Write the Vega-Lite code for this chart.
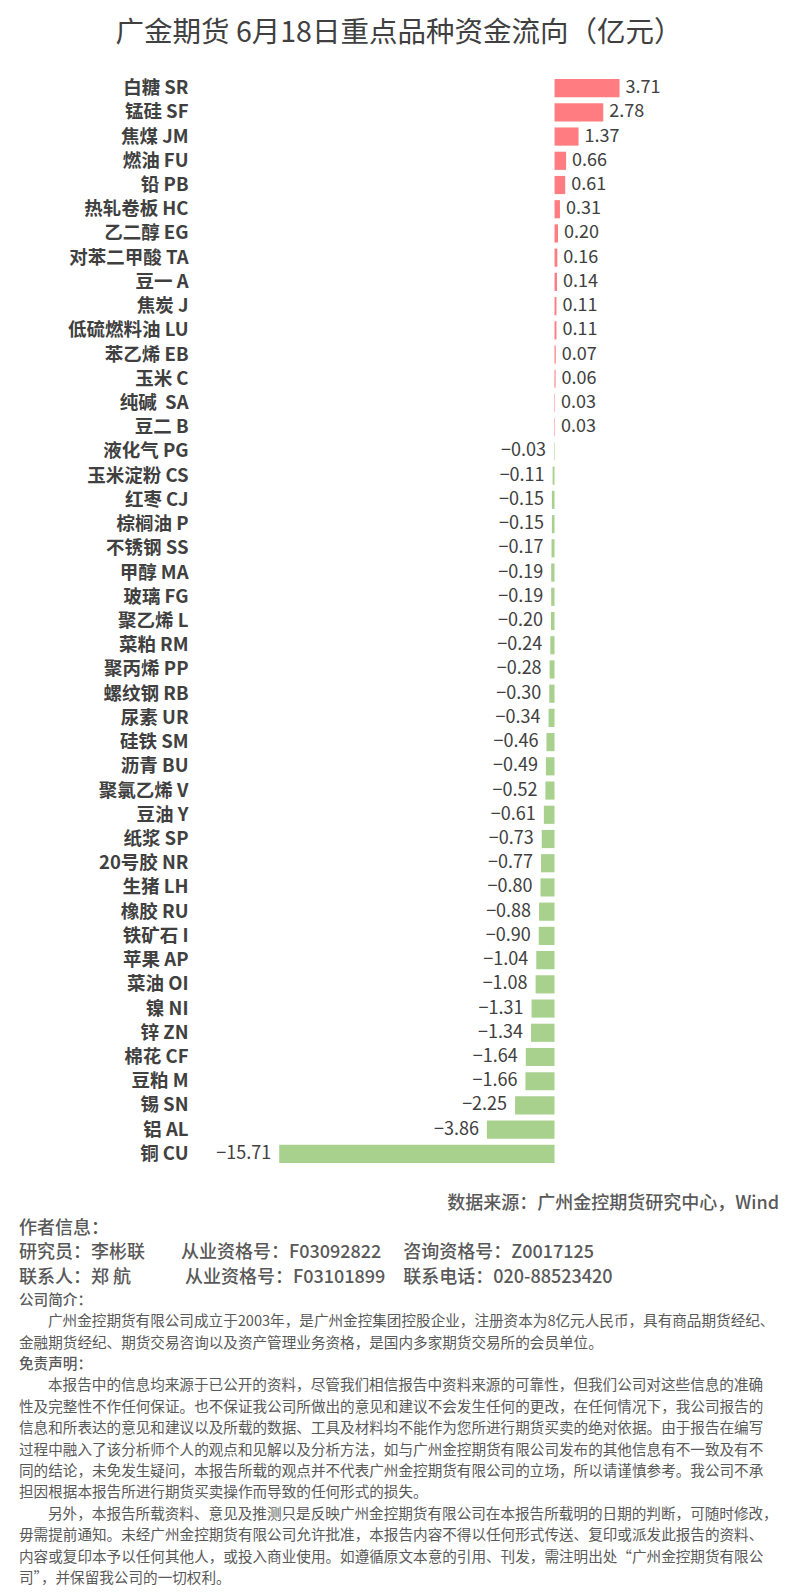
{
  "$schema": "https://vega.github.io/schema/vega-lite/v6.json",
  "background": "white",
  "padding": {"left": 19, "top": 18, "right": 9, "bottom": 0},
  "config": {
    "view": {"stroke": null},
    "font": "Noto Sans CJK SC",
    "text": {"font": "Noto Sans CJK SC"}
  },
  "title": {
    "text": "广金期货 6月18日重点品种资金流向（亿元）",
    "fontSize": 28.5,
    "fontWeight": "normal",
    "color": "#404040",
    "font": "Noto Sans CJK SC",
    "anchor": "middle",
    "offset": 29
  },
  "datasets": {
    "flows": [
      {"name": "白糖 SR", "value": 3.71},
      {"name": "锰硅 SF", "value": 2.78},
      {"name": "焦煤 JM", "value": 1.37},
      {"name": "燃油 FU", "value": 0.66},
      {"name": "铅 PB", "value": 0.61},
      {"name": "热轧卷板 HC", "value": 0.31},
      {"name": "乙二醇 EG", "value": 0.20},
      {"name": "对苯二甲酸 TA", "value": 0.16},
      {"name": "豆一 A", "value": 0.14},
      {"name": "焦炭 J", "value": 0.11},
      {"name": "低硫燃料油 LU", "value": 0.11},
      {"name": "苯乙烯 EB", "value": 0.07},
      {"name": "玉米 C", "value": 0.06},
      {"name": "纯碱\u00a0\u00a0SA", "value": 0.03},
      {"name": "豆二 B", "value": 0.03},
      {"name": "液化气 PG", "value": -0.03},
      {"name": "玉米淀粉 CS", "value": -0.11},
      {"name": "红枣 CJ", "value": -0.15},
      {"name": "棕榈油 P", "value": -0.15},
      {"name": "不锈钢 SS", "value": -0.17},
      {"name": "甲醇 MA", "value": -0.19},
      {"name": "玻璃 FG", "value": -0.19},
      {"name": "聚乙烯 L", "value": -0.20},
      {"name": "菜粕 RM", "value": -0.24},
      {"name": "聚丙烯 PP", "value": -0.28},
      {"name": "螺纹钢 RB", "value": -0.30},
      {"name": "尿素 UR", "value": -0.34},
      {"name": "硅铁 SM", "value": -0.46},
      {"name": "沥青 BU", "value": -0.49},
      {"name": "聚氯乙烯 V", "value": -0.52},
      {"name": "豆油 Y", "value": -0.61},
      {"name": "纸浆 SP", "value": -0.73},
      {"name": "20号胶 NR", "value": -0.77},
      {"name": "生猪 LH", "value": -0.80},
      {"name": "橡胶 RU", "value": -0.88},
      {"name": "铁矿石 I", "value": -0.90},
      {"name": "苹果 AP", "value": -1.04},
      {"name": "菜油 OI", "value": -1.08},
      {"name": "镍 NI", "value": -1.31},
      {"name": "锌 ZN", "value": -1.34},
      {"name": "棉花 CF", "value": -1.64},
      {"name": "豆粕 M", "value": -1.66},
      {"name": "锡 SN", "value": -2.25},
      {"name": "铝 AL", "value": -3.86},
      {"name": "铜 CU", "value": -15.71}
    ],
    "head": [
      {"line": 0, "text": "数据来源：广州金控期货研究中心，Wind"},
      {"line": 1, "text": "作者信息："},
      {"line": 2, "text": "研究员：李彬联　　从业资格号：F03092822　 咨询资格号：Z0017125"},
      {"line": 3, "text": "联系人：郑 航　　　从业资格号：F03101899　联系电话：020-88523420"}
    ],
    "body": [
      {"line": 0, "text": "公司简介：", "kind": "h"},
      {"line": 1, "text": "广州金控期货有限公司成立于2003年，是广州金控集团控股企业，注册资本为8亿元人民币，具有商品期货经纪、", "kind": "first"},
      {"line": 2, "text": "金融期货经纪、期货交易咨询以及资产管理业务资格，是国内多家期货交易所的会员单位。", "kind": "p"},
      {"line": 3, "text": "免责声明：", "kind": "h"},
      {"line": 4, "text": "本报告中的信息均来源于已公开的资料，尽管我们相信报告中资料来源的可靠性，但我们公司对这些信息的准确", "kind": "first"},
      {"line": 5, "text": "性及完整性不作任何保证。也不保证我公司所做出的意见和建议不会发生任何的更改，在任何情况下，我公司报告的", "kind": "p"},
      {"line": 6, "text": "信息和所表达的意见和建议以及所载的数据、工具及材料均不能作为您所进行期货买卖的绝对依据。由于报告在编写", "kind": "p"},
      {"line": 7, "text": "过程中融入了该分析师个人的观点和见解以及分析方法，如与广州金控期货有限公司发布的其他信息有不一致及有不", "kind": "p"},
      {"line": 8, "text": "同的结论，未免发生疑问，本报告所载的观点并不代表广州金控期货有限公司的立场，所以请谨慎参考。我公司不承", "kind": "p"},
      {"line": 9, "text": "担因根据本报告所进行期货买卖操作而导致的任何形式的损失。", "kind": "p"},
      {"line": 10, "text": "另外，本报告所载资料、意见及推测只是反映广州金控期货有限公司在本报告所载明的日期的判断，可随时修改，", "kind": "first"},
      {"line": 11, "text": "毋需提前通知。未经广州金控期货有限公司允许批准，本报告内容不得以任何形式传送、复印或派发此报告的资料、", "kind": "p"},
      {"line": 12, "text": "内容或复印本予以任何其他人，或投入商业使用。如遵循原文本意的引用、刊发，需注明出处“广州金控期货有限公", "kind": "p"},
      {"line": 13, "text": "司”，并保留我公司的一切权利。", "kind": "p"}
    ]
  },
  "spacing": 26,
  "vconcat": [
    {
      "width": 760,
      "height": 1090,
      "data": {"name": "flows"},
      "encoding": {
        "y": {
          "field": "name",
          "type": "nominal",
          "sort": null,
          "scale": {"paddingInner": 0.25, "paddingOuter": 0.125},
          "axis": {
            "title": null,
            "domain": false,
            "ticks": false,
            "tickSize": 0,
            "labelPadding": -169,
            "labelFontSize": 18.5,
            "labelFont": "Noto Sans CJK SC",
            "labelFontWeight": "bold",
            "labelColor": "#404040",
            "labelLimit": 300
          }
        }
      },
      "layer": [
        {
          "mark": {"type": "bar"},
          "encoding": {
            "x": {
              "field": "value",
              "type": "quantitative",
              "scale": {"domain": [-30.56, 12.81], "nice": false, "zero": false},
              "axis": null
            },
            "color": {
              "condition": {"test": "datum.value >= 0", "value": "#FF7C80"},
              "value": "#A9D18E"
            }
          }
        },
        {
          "mark": {"type": "rule", "color": "#D9D9D9", "strokeWidth": 1.5},
          "encoding": {"x": {"datum": 0, "type": "quantitative"}}
        },
        {
          "transform": [{"filter": "datum.value >= 0"}],
          "mark": {"type": "text", "align": "left", "baseline": "middle", "dx": 6, "fontSize": 18, "color": "#404040", "font": "Noto Sans CJK SC"},
          "encoding": {
            "x": {"field": "value", "type": "quantitative"},
            "text": {"field": "value", "type": "quantitative", "format": ".2f"}
          }
        },
        {
          "transform": [{"filter": "datum.value < 0"}],
          "mark": {"type": "text", "align": "right", "baseline": "middle", "dx": -8, "fontSize": 18, "color": "#404040", "font": "Noto Sans CJK SC"},
          "encoding": {
            "x": {"field": "value", "type": "quantitative"},
            "text": {"field": "value", "type": "quantitative", "format": ".2f"}
          }
        }
      ]
    },
    {
      "spacing": 0,
      "vconcat": [
        {
          "width": 760,
          "height": {"step": 24.5},
          "data": {"name": "head"},
          "encoding": {
            "y": {"field": "line", "type": "ordinal", "axis": null}
          },
          "layer": [
            {
              "transform": [{"filter": "datum.line == 0"}],
              "mark": {"type": "text", "align": "right", "baseline": "middle", "fontSize": 18, "fontWeight": 500, "color": "#595959", "font": "Noto Sans CJK SC"},
              "encoding": {"x": {"value": "width"}, "text": {"field": "text"}}
            },
            {
              "transform": [{"filter": "datum.line > 0"}],
              "mark": {"type": "text", "align": "left", "baseline": "middle", "fontSize": 18, "fontWeight": 500, "color": "#595959", "font": "Noto Sans CJK SC"},
              "encoding": {"x": {"value": 0}, "text": {"field": "text"}}
            }
          ]
        },
        {
          "width": 760,
          "height": {"step": 21.4},
          "data": {"name": "body"},
          "encoding": {
            "y": {"field": "line", "type": "ordinal", "axis": null}
          },
          "layer": [
            {
              "transform": [{"filter": "datum.kind == 'h'"}],
              "mark": {"type": "text", "align": "left", "baseline": "middle", "fontSize": 14.6, "fontWeight": 500, "color": "#595959", "font": "Noto Sans CJK SC"},
              "encoding": {"x": {"value": 0}, "text": {"field": "text"}}
            },
            {
              "transform": [{"filter": "datum.kind == 'p'"}],
              "mark": {"type": "text", "align": "left", "baseline": "middle", "fontSize": 14.6, "color": "#595959", "font": "Noto Sans CJK SC"},
              "encoding": {"x": {"value": 0}, "text": {"field": "text"}}
            },
            {
              "transform": [{"filter": "datum.kind == 'first'"}],
              "mark": {"type": "text", "align": "left", "baseline": "middle", "dx": 29, "fontSize": 14.6, "color": "#595959", "font": "Noto Sans CJK SC"},
              "encoding": {"x": {"value": 0}, "text": {"field": "text"}}
            }
          ]
        }
      ]
    }
  ]
}
